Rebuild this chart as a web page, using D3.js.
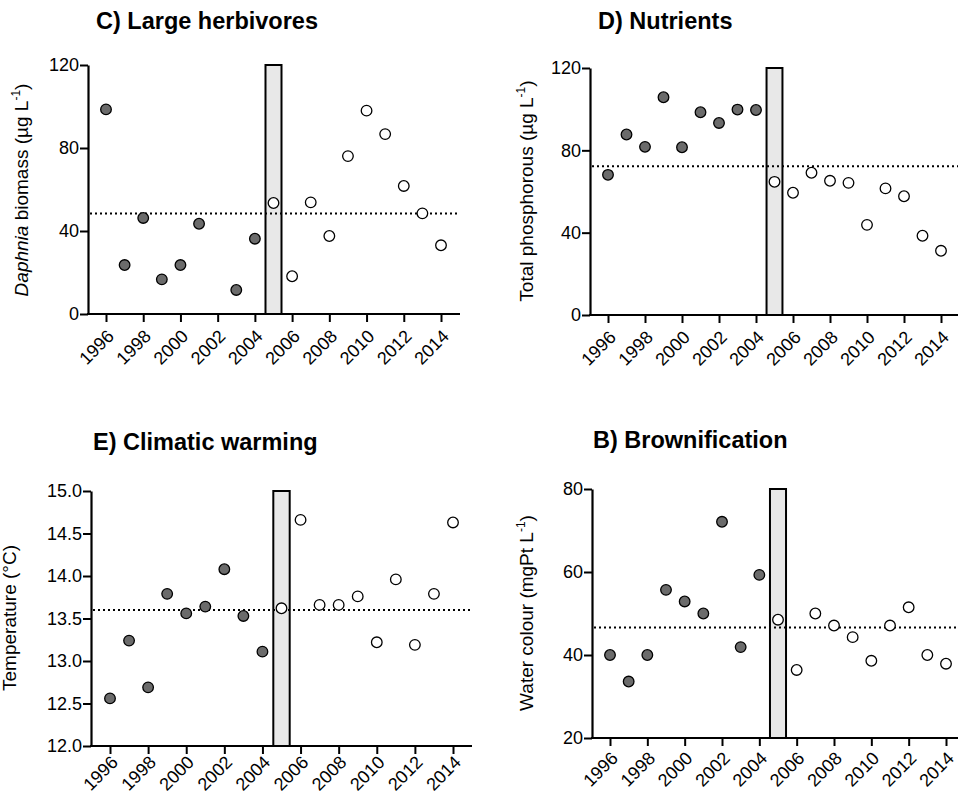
<!DOCTYPE html>
<html>
<head>
<meta charset="utf-8">
<script src="https://cdn.jsdelivr.net/npm/d3@7"></script>
<style>
  body { margin: 0; background: #fff; }
  text { font-family: "Liberation Sans", Arial, sans-serif; }
</style>
</head>
<body>
<script>
// data
const years = [1996,1997,1998,1999,2000,2001,2002,2003,2004,2005,2006,2007,2008,2009,2010,2011,2012,2013,2014];
const yearTicks = [1996,1998,2000,2002,2004,2006,2008,2010,2012,2014];
const breakYear = 2005;

// C) Large herbivores - no value for 2002
const daphnia = [98.6,23.6,46.3,16.7,23.6,43.5,null,11.6,36.3,53.5,18.2,53.8,37.6,76.1,98.0,86.7,61.7,48.5,33.1];
const daphniaMean = 48.4;
const daphniaTicks = [0,40,80,120];

// D) Nutrients
const phosphorus = [68.1,87.7,81.7,105.8,81.5,98.5,93.3,99.8,99.6,64.7,59.4,69.1,65.2,64.2,43.8,61.5,57.7,38.5,31.2];
const phosphorusMean = 72.3;
const phosphorusTicks = [0,40,80,120];

// E) Climatic warming
const temperature = [12.56,13.24,12.69,13.79,13.56,13.64,14.08,13.53,13.11,13.62,14.66,13.66,13.66,13.76,13.22,13.96,13.19,13.79,14.63];
const temperatureMean = 13.6;
const temperatureTicks = [12.0,12.5,13.0,13.5,14.0,14.5,15.0];

// B) Brownification
const colour = [40.0,33.6,40.0,55.7,52.9,50.0,72.1,41.9,59.3,48.5,36.4,50.0,47.1,44.3,38.6,47.1,51.5,40.0,37.9];
const colourMean = 46.6;
const colourTicks = [20,40,60,80];

const svg = d3.select('body')
  .append('svg')
    .attr('width', 958)
    .attr('height', 799);

const panels = [
  {title: 'C) Large herbivores', tx: 96, ty: 29, values: daphnia, mean: daphniaMean, ticks: daphniaTicks, fmt: d3.format('d'),
   ax: 88, x0: 106, x1: 441, xEnd: 460, yTop: 65, yBot: 314, lx: 28, ly: 190, label: 'daphnia', tdy: 19},
  {title: 'D) Nutrients', tx: 598, ty: 29, values: phosphorus, mean: phosphorusMean, ticks: phosphorusTicks, fmt: d3.format('d'),
   ax: 590, x0: 608, x1: 941, xEnd: 960, yTop: 68, yBot: 315, lx: 533, ly: 191, label: 'tp', tdy: 19},
  {title: 'E) Climatic warming', tx: 93, ty: 450, values: temperature, mean: temperatureMean, ticks: temperatureTicks, fmt: d3.format('.1f'),
   ax: 91, x0: 110, x1: 453, xEnd: 472, yTop: 491, yBot: 746, lx: 16, ly: 618, label: 'temp', tdy: 13},
  {title: 'B) Brownification', tx: 593, ty: 448, values: colour, mean: colourMean, ticks: colourTicks, fmt: d3.format('d'),
   ax: 592, x0: 610, x1: 946, xEnd: 960, yTop: 489, yBot: 738, lx: 533, ly: 613, label: 'colour', tdy: 17}
];

panels.forEach(p => {
  const g = svg.append('g');

  const x = d3.scaleLinear().domain([1996, 2014]).range([p.x0, p.x1]);
  const y = d3.scaleLinear().domain(d3.extent(p.ticks)).range([p.yBot, p.yTop]);

  // title
  g.append('text')
    .attr('x', p.tx).attr('y', p.ty)
    .attr('font-size', 23.5).attr('font-weight', 'bold')
    .text(p.title);

  // grey bar at break year
  g.append('rect')
    .attr('x', x(breakYear - 0.43))
    .attr('y', p.yTop)
    .attr('width', x(breakYear + 0.43) - x(breakYear - 0.43))
    .attr('height', p.yBot - p.yTop)
    .attr('fill', '#e8e8e8')
    .attr('stroke', 'black')
    .attr('stroke-width', 2);

  // mean line
  g.append('line')
    .attr('x1', p.ax + 2).attr('x2', p.xEnd)
    .attr('y1', y(p.mean)).attr('y2', y(p.mean))
    .attr('stroke', 'black')
    .attr('stroke-width', 2)
    .attr('stroke-dasharray', '2,3');

  // y axis
  const yAxis = g.append('g')
    .attr('transform', 'translate(' + p.ax + ',0)')
    .call(d3.axisLeft(y).tickValues(p.ticks).tickFormat(p.fmt).tickSize(8).tickSizeOuter(0).tickPadding(1));
  yAxis.select('.domain').attr('stroke-width', 2.2);
  yAxis.selectAll('.tick line').attr('stroke-width', 2);
  yAxis.selectAll('.tick text').attr('font-size', 18).attr('font-family', '"Liberation Sans", Arial, sans-serif').attr('fill', 'black');

  // x axis
  const xAxis = g.append('g')
    .attr('transform', 'translate(0,' + p.yBot + ')')
    .call(d3.axisBottom(x).tickValues(yearTicks).tickFormat(d3.format('d')).tickSize(8));
  xAxis.select('.domain').remove();
  xAxis.append('line')
    .attr('x1', p.ax - 1).attr('x2', p.xEnd)
    .attr('stroke', 'black').attr('stroke-width', 2.2);
  xAxis.selectAll('.tick line').attr('stroke-width', 2);
  xAxis.selectAll('.tick text')
    .attr('font-size', 18).attr('font-family', '"Liberation Sans", Arial, sans-serif').attr('fill', 'black')
    .attr('text-anchor', 'end')
    .attr('y', 0).attr('dy', '0.35em')
    .attr('transform', 'translate(4,' + p.tdy + ') rotate(-45)');

  // y axis label
  const lab = g.append('text')
    .attr('transform', 'translate(' + p.lx + ',' + p.ly + ') rotate(-90)')
    .attr('text-anchor', 'middle')
    .attr('font-size', 19);
  if (p.label === 'daphnia') {
    lab.append('tspan').attr('font-style', 'italic').text('Daphnia');
    lab.append('tspan').text(' biomass (µg L');
  } else if (p.label === 'tp') {
    lab.append('tspan').text('Total phosphorous (µg L');
  } else if (p.label === 'colour') {
    lab.append('tspan').text('Water colour (mgPt L');
  } else {
    lab.append('tspan').text('Temperature (°C)');
  }
  if (p.label !== 'temp') {
    lab.append('tspan').attr('font-size', 12).attr('dy', -8).text('-1');
    lab.append('tspan').attr('dy', 8).text(')');
  }

  // points
  const pts = years.map((yr, i) => ({year: yr, value: p.values[i]})).filter(d => d.value !== null);
  g.append('g').selectAll('circle')
    .data(pts)
    .enter().append('circle')
      .attr('cx', d => x(d.year))
      .attr('cy', d => y(d.value))
      .attr('r', 5.3)
      .attr('fill', d => d.year < breakYear ? '#6b6b6b' : 'white')
      .attr('stroke', 'black')
      .attr('stroke-width', 1.3);
});
</script>
</body>
</html>
